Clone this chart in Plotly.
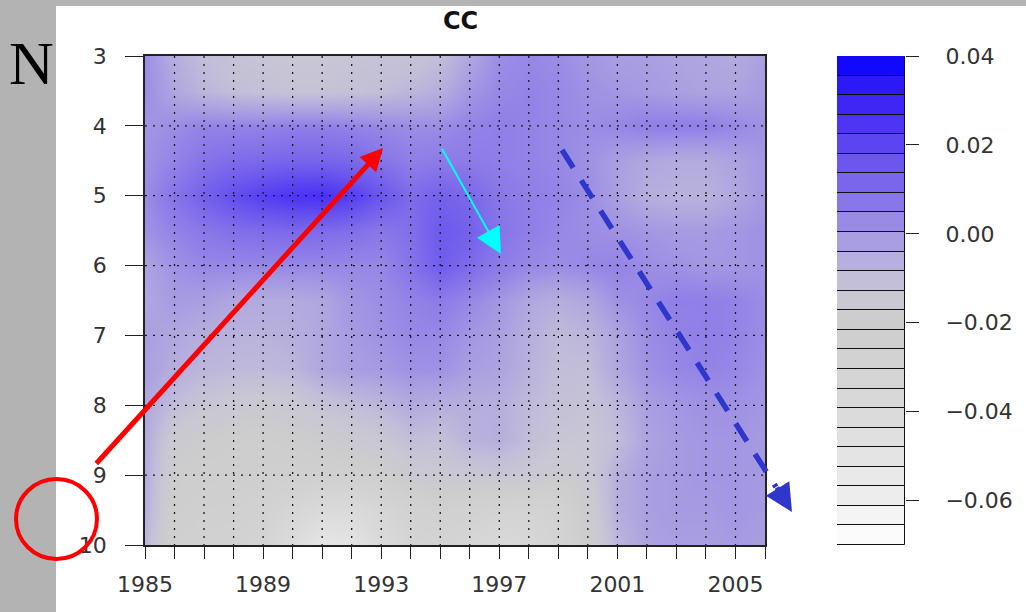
import numpy as np
import plotly.graph_objects as go

W, H = 1026, 612

# ---------------- data ----------------
years = list(range(1985, 2007))
n_values = [3.0, 3.5, 4.0, 4.5, 5.0, 5.5, 6.0, 6.5, 7.0, 7.5, 8.0, 8.5, 9.0, 9.5, 10.0]

#          1985    86      87      88      89      90      91      92      93      94      95      96      97      98      99      00      01      02      03      04      05      06
cc_n3_0 = [0.002, -0.006, -0.010, -0.012, -0.013, -0.014, -0.014, -0.013, -0.012, -0.012, -0.010, -0.004, 0.002, 0.003, 0.002, 0.000, -0.002, -0.002, -0.003, -0.004, -0.005, -0.002]
cc_n3_5 = [0.002, -0.004, -0.008, -0.010, -0.011, -0.012, -0.012, -0.011, -0.010, -0.008, -0.006, 0.000, 0.003, 0.004, 0.003, 0.001, 0.000, -0.001, -0.002, -0.003, -0.003, -0.001]
cc_n4_0 = [0.000, 0.002, 0.004, 0.004, 0.004, 0.005, 0.005, 0.004, 0.003, 0.002, 0.002, 0.004, 0.005, 0.004, 0.003, 0.002, 0.003, 0.005, 0.005, 0.005, 0.003, 0.001]
cc_n4_5 = [0.001, 0.004, 0.008, 0.010, 0.011, 0.012, 0.012, 0.011, 0.008, 0.005, 0.006, 0.006, 0.005, 0.004, 0.003, 0.001, -0.002, -0.004, -0.005, -0.005, -0.003, 0.000]
cc_n5_0 = [0.002, 0.008, 0.013, 0.018, 0.022, 0.025, 0.026, 0.022, 0.016, 0.010, 0.013, 0.011, 0.007, 0.005, 0.004, 0.002, -0.002, -0.006, -0.007, -0.007, -0.004, 0.000]
cc_n5_5 = [0.001, 0.004, 0.007, 0.009, 0.010, 0.011, 0.010, 0.009, 0.007, 0.009, 0.015, 0.013, 0.008, 0.005, 0.003, 0.002, 0.001, 0.000, -0.001, -0.001, 0.000, 0.001]
cc_n6_0 = [-0.003, 0.001, 0.003, 0.003, 0.003, 0.003, 0.003, 0.003, 0.003, 0.008, 0.014, 0.010, 0.006, 0.003, 0.002, 0.003, 0.004, 0.002, 0.001, 0.000, 0.000, 0.001]
cc_n6_5 = [-0.004, -0.001, -0.002, -0.004, -0.005, -0.005, -0.004, 0.000, 0.002, 0.004, 0.006, 0.003, 0.000, -0.004, -0.006, -0.004, 0.001, 0.003, 0.005, 0.005, 0.004, 0.002]
cc_n7_0 = [-0.002, -0.004, -0.006, -0.007, -0.007, -0.006, -0.004, -0.001, 0.001, 0.003, 0.003, 0.000, -0.002, -0.006, -0.009, -0.008, -0.003, 0.002, 0.004, 0.005, 0.004, 0.002]
cc_n7_5 = [-0.002, -0.006, -0.008, -0.009, -0.009, -0.008, -0.004, -0.002, -0.001, 0.001, 0.001, -0.002, -0.003, -0.007, -0.010, -0.010, -0.004, 0.001, 0.003, 0.004, 0.003, 0.001]
cc_n8_0 = [-0.004, -0.010, -0.013, -0.015, -0.016, -0.015, -0.012, -0.010, -0.008, -0.005, -0.006, -0.006, -0.006, -0.009, -0.011, -0.012, -0.008, -0.002, 0.000, 0.001, 0.001, 0.000]
cc_n8_5 = [-0.005, -0.016, -0.019, -0.021, -0.021, -0.020, -0.018, -0.016, -0.014, -0.010, -0.011, -0.007, -0.006, -0.010, -0.013, -0.014, -0.010, -0.003, -0.001, 0.000, 0.000, -0.001]
cc_n9_0 = [-0.005, -0.020, -0.022, -0.022, -0.023, -0.024, -0.025, -0.024, -0.022, -0.016, -0.015, -0.014, -0.013, -0.015, -0.018, -0.015, -0.006, -0.002, -0.001, 0.000, 0.000, -0.001]
cc_n9_5 = [-0.006, -0.022, -0.024, -0.025, -0.028, -0.034, -0.040, -0.040, -0.034, -0.028, -0.025, -0.028, -0.030, -0.030, -0.028, -0.018, -0.006, -0.002, -0.001, -0.001, 0.000, -0.001]
cc_n10_0 = [-0.008, -0.024, -0.026, -0.028, -0.032, -0.042, -0.052, -0.050, -0.040, -0.032, -0.030, -0.034, -0.038, -0.036, -0.030, -0.020, -0.008, -0.003, -0.002, -0.002, -0.001, -0.002]

cc_z = [cc_n3_0, cc_n3_5, cc_n4_0, cc_n4_5, cc_n5_0, cc_n5_5, cc_n6_0, cc_n6_5,
        cc_n7_0, cc_n7_5, cc_n8_0, cc_n8_5, cc_n9_0, cc_n9_5, cc_n10_0]

z_min, z_max = -0.07, 0.04
n_bands = 25

x_tick_years = list(range(1985, 2007))
x_tick_labels = [str(y) if (y - 1985) % 4 == 0 else "" for y in x_tick_years]
grid_years = list(range(1986, 2006))
y_ticks = [3, 4, 5, 6, 7, 8, 9, 10]
grid_n = [4, 5, 6, 7, 8, 9]
bar_ticks = [-0.06, -0.04, -0.02, 0.00, 0.02, 0.04]
bar_tick_labels = ["\u22120.06", "\u22120.04", "\u22120.02", "0.00", "0.02", "0.04"]

# colour palette (value -> colour)
pal_values = [-0.070, -0.060, -0.050, -0.040, -0.030, -0.020, -0.014, -0.010, -0.006, -0.003,
              0.000, 0.004, 0.008, 0.012, 0.016, 0.020, 0.025, 0.030, 0.035, 0.040]
pal_colors = ["#ffffff", "#eeeeee", "#e4e4e4", "#dadada", "#d3d3d3", "#cdcdcd", "#c9c7d3", "#c2bed9",
              "#b6aedd", "#ada3e0", "#a396e3", "#9383e7", "#8573e9", "#7764ec", "#6a56ee", "#5c46f0",
              "#4c34f3", "#3b24f6", "#2612f9", "#0000ff"]

# ---------------- helpers ----------------
def hex_rgb(h):
    h = h.lstrip("#")
    return np.array([int(h[i:i + 2], 16) for i in (0, 2, 4)], dtype=float)

pal_pos = [(v - z_min) / (z_max - z_min) for v in pal_values]
colorscale = [[p, c] for p, c in zip(pal_pos, pal_colors)]
pal_rgb = np.array([hex_rgb(c) for c in pal_colors])

def color_at(v):
    rgb = [np.interp(v, pal_values, pal_rgb[:, k]) for k in range(3)]
    return "rgb(%d,%d,%d)" % tuple(int(round(c)) for c in rgb)

levels = np.linspace(z_min, z_max, n_bands + 1)
band_base = levels[:-1]
band_height = np.diff(levels)
band_colors = [color_at(0.5 * (a + b)) for a, b in zip(levels[:-1], levels[1:])]

def fx(p):
    return p / W

def fy(p):
    return 1 - p / H

# plot area in pixels
PL, PR, PT, PB = 145, 765, 56, 545
CL, CR = 837, 905

fig = go.Figure()

fig.add_trace(go.Heatmap(
    x=years, y=n_values, z=cc_z,
    colorscale=colorscale, zmin=z_min, zmax=z_max,
    zsmooth="best", showscale=False, hoverinfo="skip",
    xaxis="x", yaxis="y",
))

fig.add_trace(go.Bar(
    x=[0] * n_bands, y=band_height, base=band_base, width=1,
    marker=dict(color=band_colors, line=dict(color="#111111", width=1)),
    xaxis="x2", yaxis="y2", showlegend=False, hoverinfo="skip",
))

tick_font = dict(family="DejaVu Sans", size=22, color="#333333")

fig.update_layout(
    template="none",
    width=W, height=H,
    margin=dict(l=0, r=0, t=0, b=0, pad=0),
    paper_bgcolor="#b3b3b3",
    plot_bgcolor="white",
    barmode="overlay",
    bargap=0,
    showlegend=False,
    xaxis=dict(
        domain=[fx(PL), fx(PR)], range=[1985, 2006], anchor="y",
        tickmode="array", tickvals=x_tick_years, ticktext=x_tick_labels,
        ticks="outside", ticklen=12, tickwidth=1.3, tickcolor="#222222",
        ticklabelstandoff=7,
        showgrid=False, zeroline=False,
        showline=True, mirror=True, linecolor="#222222", linewidth=1.5,
        tickfont=tick_font, automargin=False,
    ),
    yaxis=dict(
        domain=[fy(PB), fy(PT)], range=[10, 3], anchor="x",
        tickmode="array", tickvals=y_ticks, ticktext=[str(v) for v in y_ticks],
        ticks="outside", ticklen=18, tickwidth=1.3, tickcolor="#222222",
        ticklabelstandoff=14,
        showgrid=False, zeroline=False,
        showline=True, mirror=True, linecolor="#222222", linewidth=1.5,
        tickfont=tick_font, automargin=False,
    ),
    xaxis2=dict(
        domain=[fx(CL), fx(CR)], range=[-0.5, 0.5], anchor="y2",
        visible=False, automargin=False,
    ),
    yaxis2=dict(
        domain=[fy(PB), fy(PT)], range=[z_min, z_max], anchor="x2", side="right",
        tickmode="array", tickvals=bar_ticks, ticktext=bar_tick_labels,
        ticks="outside", ticklen=13, tickwidth=1.3, tickcolor="#222222",
        ticklabelstandoff=22,
        showgrid=False, zeroline=False, showline=False,
        tickfont=tick_font, automargin=False,
    ),
)

shapes = []
# white panel
shapes.append(dict(type="rect", xref="paper", yref="paper", x0=fx(56), x1=1, y0=0, y1=fy(6),
                   fillcolor="white", line=dict(width=0), layer="below"))
# dotted grid
grid_line = dict(color="#1a1a1a", width=1.3, dash="2px,6px")
for yv in grid_years:
    shapes.append(dict(type="line", xref="x", yref="y", x0=yv, x1=yv, y0=3, y1=10,
                       line=grid_line, layer="above"))
for nv in grid_n:
    shapes.append(dict(type="line", xref="x", yref="y", x0=1985, x1=2006, y0=nv, y1=nv,
                       line=grid_line, layer="above"))
# red circle
shapes.append(dict(type="circle", xref="paper", yref="paper", x0=fx(16), x1=fx(97), y0=fy(559), y1=fy(479),
                   line=dict(color="#ff0000", width=4), layer="above"))
# blue dashed line
shapes.append(dict(type="line", xref="paper", yref="paper", x0=fx(562), y0=fy(150), x1=fx(776), y1=fy(487),
                   line=dict(color="#2f36cc", width=5.5, dash="21px,15px"), layer="above"))

annotations = [
    dict(text="<b>CC</b>", xref="paper", yref="paper", x=fx(460), y=fy(21), showarrow=False,
         font=dict(family="DejaVu Sans", size=24, color="#111111"), xanchor="center", yanchor="middle"),
    dict(text="N", xref="paper", yref="paper", x=fx(31), y=fy(63), showarrow=False,
         font=dict(family="Liberation Serif", size=62, color="#000000"), xanchor="center", yanchor="middle"),
    # red arrow
    dict(text="", xref="paper", yref="paper", x=fx(383), y=fy(148), ax=95 - 383, ay=465 - 148,
         showarrow=True, arrowhead=2, arrowsize=0.9, arrowwidth=5, arrowcolor="#ff0000"),
    # cyan arrow
    dict(text="", xref="paper", yref="paper", x=fx(501), y=fy(254), ax=441 - 501, ay=147 - 254,
         showarrow=True, arrowhead=2, arrowsize=2.6, arrowwidth=2, arrowcolor="#00ffff"),
    # blue arrow head
    dict(text="", xref="paper", yref="paper", x=fx(792), y=fy(512), ax=-16, ay=-26,
         showarrow=True, arrowhead=2, arrowsize=1.1, arrowwidth=5, arrowcolor="#2f36cc"),
]

fig.update_layout(shapes=shapes, annotations=annotations)

fig.write_html("out.html", config={"displayModeBar": False},
               post_script="document.body.style.margin='0';")
